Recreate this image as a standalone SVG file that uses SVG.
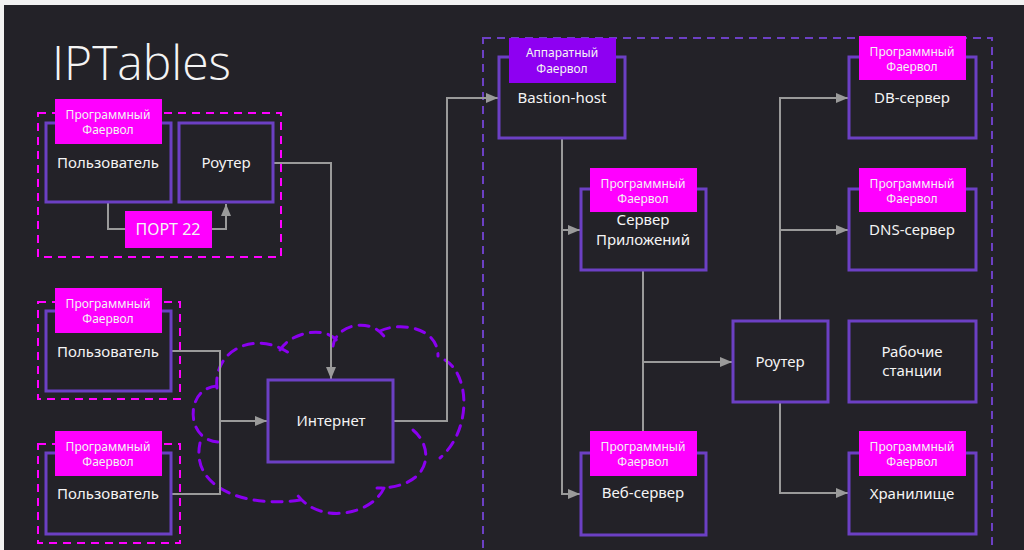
<svg xmlns="http://www.w3.org/2000/svg" width="1024" height="550" viewBox="0 0 1024 550">
  <style>
    .bg { fill: #232228; }
    .box { fill: #232228; stroke: #6c40c4; stroke-width: 3; }
    .badge { fill: #ff00ff; }
    .hw { fill: #8e00f2; }
    .zone { fill: none; stroke: #ff00ff; stroke-width: 2; stroke-dasharray: 8 6; }
    .dmz { fill: none; stroke: #6c40c4; stroke-width: 2; stroke-dasharray: 8 6; }
    .cloud { fill: none; stroke: #8a00f0; stroke-width: 3; stroke-dasharray: 10 8; stroke-linecap: round; }
    .edge { fill: none; stroke: #9a9a9a; stroke-width: 2; }
    text { font-family: "Noto Sans", "Open Sans", sans-serif; fill: #f4f4f4; text-anchor: middle; }
    .lbl { font-size: 15px; }
    .bt { font-size: 12px; }
    .port { font-size: 16px; }
    .title { font-family: "Open Sans", "Noto Sans", sans-serif; font-weight: 300; font-size: 48px; text-anchor: start; }
  </style>
  <defs>
    <marker id="arrow" viewBox="0 0 12 10" refX="12" refY="5" markerWidth="12" markerHeight="10" markerUnits="userSpaceOnUse" orient="auto">
      <path d="M0,0 L12,5 L0,10 z" fill="#9a9a9a"/>
    </marker>
  </defs>

  <rect x="0" y="0" width="1024" height="550" fill="#f2f2f2"/>
  <rect class="bg" x="4" y="5" width="1020" height="545"/>

  <text class="title" x="52" y="80">IPTables</text>

  <!-- protected zones -->
  <g id="zones">
    <rect class="zone" x="38" y="113" width="243" height="144"/>
    <rect class="zone" x="38" y="302" width="142" height="97"/>
    <rect class="zone" x="38" y="444" width="142" height="99"/>
    <rect class="dmz" x="483" y="38" width="509" height="530"/>
  </g>

  <!-- internet cloud -->
  <g id="cloud">
    <path class="cloud" d="M217,388 C213,350 255,330 289,353"/>
    <path class="cloud" d="M280,350 C290,333 325,324 338,342"/>
    <path class="cloud" d="M333,346 C336,324 372,316 386,339"/>
    <path class="cloud" d="M380,331 C398,322 438,326 438,356"/>
    <path class="cloud" d="M445,360 C470,375 472,430 440,458"/>
    <path class="cloud" d="M413,430 C435,448 432,488 377,488"/>
    <path class="cloud" d="M384,488 C372,515 318,526 296,493"/>
    <path class="cloud" d="M300,500 C250,508 190,490 200,443"/>
    <path class="cloud" d="M218,442 C185,440 185,388 217,386"/>
  </g>

  <!-- connectors -->
  <g id="connectors">
    <path class="edge" d="M108,202 V229 H226 V204" marker-end="url(#arrow)"/>
    <path class="edge" d="M273,163 H331 V379" marker-end="url(#arrow)"/>
    <path class="edge" d="M171,351 H220 V494 H171"/>
    <path class="edge" d="M220,421 H267" marker-end="url(#arrow)"/>
    <path class="edge" d="M393,421 H447 V98 H498" marker-end="url(#arrow)"/>
    <path class="edge" d="M562,138 V494 H580" marker-end="url(#arrow)"/>
    <path class="edge" d="M562,230 H580" marker-end="url(#arrow)"/>
    <path class="edge" d="M643,270 V431"/>
    <path class="edge" d="M643,362 H732" marker-end="url(#arrow)"/>
    <path class="edge" d="M780,321 V98 H848" marker-end="url(#arrow)"/>
    <path class="edge" d="M780,230 H848" marker-end="url(#arrow)"/>
    <path class="edge" d="M780,402 V493 H848" marker-end="url(#arrow)"/>
  </g>

  <g id="user1">
    <rect class="box" x="46" y="123" width="125" height="79"/>
    <rect class="badge" x="55" y="99" width="107" height="45"/>
    <text class="bt" x="108" y="119">Программный</text>
    <text class="bt" x="108" y="134">Фаервол</text>
    <text class="lbl" x="108" y="168">Пользователь</text>
  </g>

  <g id="router1">
    <rect class="box" x="179" y="123" width="94" height="79"/>
    <text class="lbl" x="226" y="168">Роутер</text>
  </g>

  <g id="port22">
    <rect class="badge" x="125" y="211" width="87" height="37"/>
    <text class="port" x="168" y="235">ПОРТ 22</text>
  </g>

  <g id="user2">
    <rect class="box" x="46" y="311" width="125" height="80"/>
    <rect class="badge" x="55" y="288" width="107" height="45"/>
    <text class="bt" x="108" y="308">Программный</text>
    <text class="bt" x="108" y="323">Фаервол</text>
    <text class="lbl" x="108" y="357">Пользователь</text>
  </g>

  <g id="user3">
    <rect class="box" x="46" y="453" width="125" height="81"/>
    <rect class="badge" x="55" y="431" width="107" height="45"/>
    <text class="bt" x="108" y="451">Программный</text>
    <text class="bt" x="108" y="466">Фаервол</text>
    <text class="lbl" x="108" y="499">Пользователь</text>
  </g>

  <g id="internet">
    <rect class="box" x="268" y="380" width="125" height="82"/>
    <text class="lbl" x="331" y="426">Интернет</text>
  </g>

  <g id="bastion">
    <rect class="box" x="499" y="57" width="126" height="81"/>
    <rect class="hw" x="509" y="38" width="107" height="45"/>
    <text class="bt" x="562" y="57">Аппаратный</text>
    <text class="bt" x="562" y="73">Фаервол</text>
    <text class="lbl" x="562" y="103">Bastion-host</text>
  </g>

  <g id="app-server">
    <rect class="box" x="581" y="189" width="125" height="81"/>
    <rect class="badge" x="590" y="168" width="107" height="44"/>
    <text class="bt" x="643" y="188">Программный</text>
    <text class="bt" x="643" y="203">Фаервол</text>
    <text class="lbl" x="643" y="225">Сервер</text>
    <text class="lbl" x="643" y="245">Приложений</text>
  </g>

  <g id="web-server">
    <rect class="box" x="581" y="453" width="125" height="82"/>
    <rect class="badge" x="590" y="431" width="107" height="45"/>
    <text class="bt" x="643" y="451">Программный</text>
    <text class="bt" x="643" y="466">Фаервол</text>
    <text class="lbl" x="643" y="498">Веб-сервер</text>
  </g>

  <g id="router2">
    <rect class="box" x="733" y="321" width="95" height="81"/>
    <text class="lbl" x="780" y="367">Роутер</text>
  </g>

  <g id="db-server">
    <rect class="box" x="849" y="57" width="127" height="81"/>
    <rect class="badge" x="859" y="36" width="107" height="44"/>
    <text class="bt" x="912" y="56">Программный</text>
    <text class="bt" x="912" y="71">Фаервол</text>
    <text class="lbl" x="912" y="103">DB-сервер</text>
  </g>

  <g id="dns-server">
    <rect class="box" x="849" y="189" width="127" height="81"/>
    <rect class="badge" x="859" y="168" width="107" height="44"/>
    <text class="bt" x="912" y="188">Программный</text>
    <text class="bt" x="912" y="203">Фаервол</text>
    <text class="lbl" x="912" y="235">DNS-сервер</text>
  </g>

  <g id="workstations">
    <rect class="box" x="849" y="321" width="127" height="81"/>
    <text class="lbl" x="912" y="357">Рабочие</text>
    <text class="lbl" x="912" y="376">станции</text>
  </g>

  <g id="storage">
    <rect class="box" x="849" y="453" width="127" height="81"/>
    <rect class="badge" x="859" y="431" width="107" height="45"/>
    <text class="bt" x="912" y="451">Программный</text>
    <text class="bt" x="912" y="466">Фаервол</text>
    <text class="lbl" x="912" y="499">Хранилище</text>
  </g>
</svg>
